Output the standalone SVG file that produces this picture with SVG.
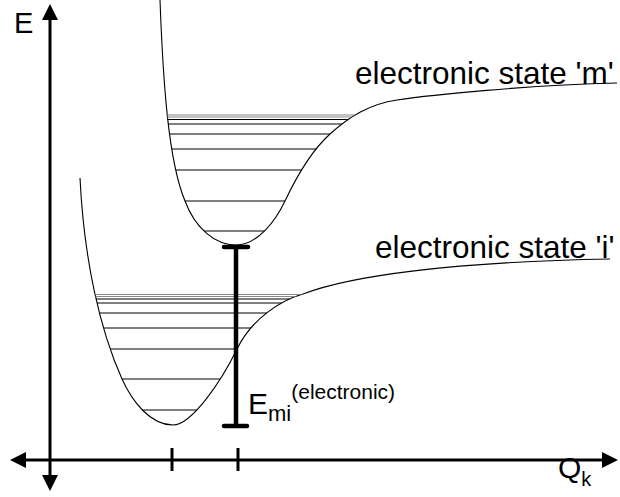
<svg xmlns="http://www.w3.org/2000/svg" width="620" height="497" viewBox="0 0 620 497">
<style>
.txt{font-family:"Liberation Sans",Arial,sans-serif;fill:#000}
.curve{fill:none;stroke:#000;stroke-width:1.1}
.lvl{stroke:#000;stroke-width:1.1}
.lvlg{stroke:#888;stroke-width:1.1}
.axis{stroke:#000;stroke-width:3;fill:none}
.bar{stroke:#000;stroke-width:4.5;stroke-linecap:round;fill:none}
</style>
<defs>
<clipPath id="clipM"><path d="M160,0 C163,80 168,160 185,201 C195,228 215,245 236,245 C258,245 276,220 285,201 C294,182 310,152 330,134 C350,116 370,104 397,100 C430,95 530,85 617,83 L620,0 Z"/></clipPath>
<clipPath id="clipI"><path d="M80,178 C84,260 100,330 122,379 C132,401 150,425 173,425 C192,425 222,380 237,349 C252,318 282,300 303,294 C350,276 450,262 610,259 L610,178 Z"/></clipPath>
</defs>
<g id="axes">
<line class="axis" x1="50" y1="18" x2="50" y2="478"/>
<polygon points="50,4 42,20 58,20"/>
<polygon points="50,491 42,475 58,475"/>
<line class="axis" x1="24" y1="460" x2="605" y2="460"/>
<polygon points="10,460 26,452 26,468"/>
<polygon points="618,460 602,452 602,468"/>
<line class="axis" x1="172" y1="448" x2="172" y2="471"/>
<line class="axis" x1="238" y1="448" x2="238" y2="471"/>
<text class="txt" x="14" y="33" font-size="29">E</text>
<text class="txt" x="558" y="478" font-size="30">Q<tspan font-size="20" dy="8">k</tspan></text>
</g>
<g id="state-m">
<path class="curve" d="M160,0 C163,80 168,160 185,201 C195,228 215,245 236,245 C258,245 276,220 285,201 C294,182 310,152 330,134 C350,116 370,104 397,100 C430,95 530,85 617,83"/>
<g clip-path="url(#clipM)">
<line class="lvlg" x1="150" y1="115" x2="420" y2="115"/>
<line class="lvlg" x1="150" y1="117" x2="420" y2="117"/>
<line class="lvl" x1="150" y1="119.5" x2="420" y2="119.5"/>
<line class="lvl" x1="150" y1="124" x2="420" y2="124"/>
<line class="lvl" x1="150" y1="134" x2="420" y2="134"/>
<line class="lvl" x1="150" y1="149" x2="420" y2="149"/>
<line class="lvl" x1="150" y1="170" x2="420" y2="170"/>
<line class="lvl" x1="150" y1="201" x2="420" y2="201"/>
<line class="lvl" x1="150" y1="231" x2="420" y2="231"/>
</g>
<text class="txt" x="355" y="84" font-size="31.5">electronic state 'm'</text>
</g>
<g id="state-i">
<path class="curve" d="M80,178 C84,260 100,330 122,379 C132,401 150,425 173,425 C192,425 222,380 237,349 C252,318 282,300 303,294 C350,276 450,262 610,259"/>
<g clip-path="url(#clipI)">
<line class="lvlg" x1="70" y1="294.5" x2="360" y2="294.5"/>
<line class="lvlg" x1="70" y1="296.5" x2="360" y2="296.5"/>
<line class="lvl" x1="70" y1="299" x2="360" y2="299"/>
<line class="lvl" x1="70" y1="303" x2="360" y2="303"/>
<line class="lvl" x1="70" y1="313" x2="360" y2="313"/>
<line class="lvl" x1="70" y1="328" x2="360" y2="328"/>
<line class="lvl" x1="70" y1="349" x2="360" y2="349"/>
<line class="lvl" x1="70" y1="379" x2="360" y2="379"/>
<line class="lvl" x1="70" y1="410" x2="360" y2="410"/>
</g>
<text class="txt" x="375" y="258" font-size="31.5">electronic state 'i'</text>
</g>
<g id="transition">
<path class="bar" d="M236,247 L236,426 M224,247 L248,247 M224,426 L247,426"/>
<text class="txt" x="248" y="414" font-size="30">E<tspan font-size="22" dy="7">mi</tspan><tspan font-size="21" dy="-22">(electronic)</tspan></text>
</g>
</svg>
